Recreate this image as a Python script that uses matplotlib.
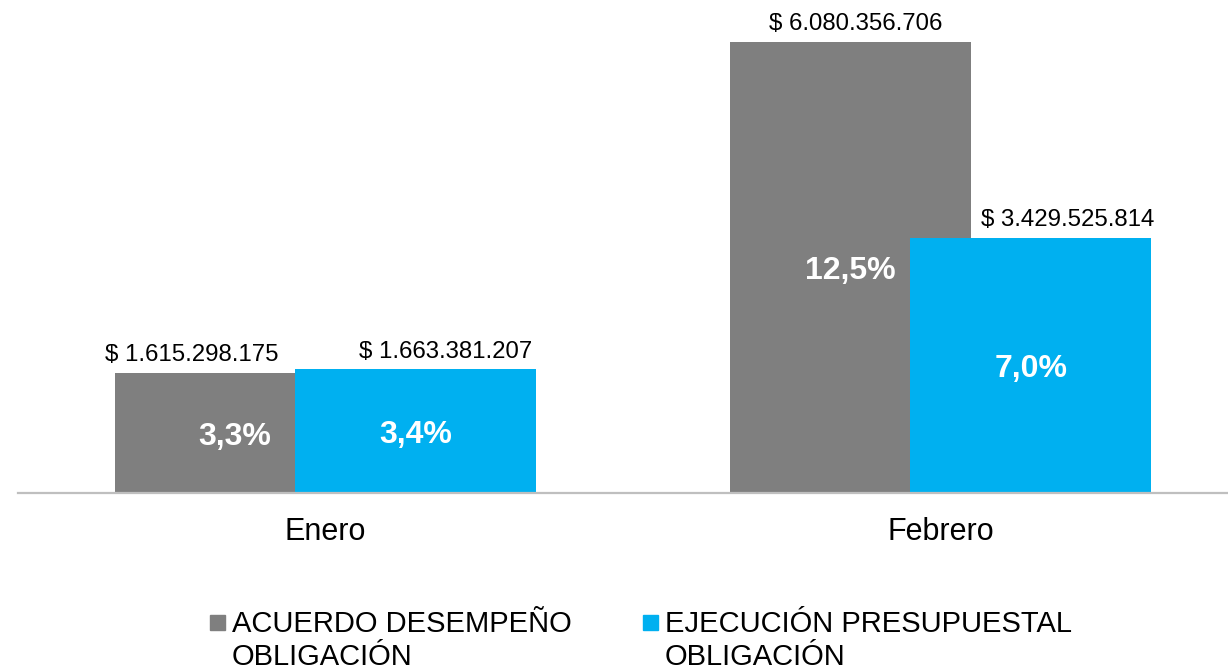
import matplotlib
matplotlib.use("Agg")
import matplotlib.pyplot as plt
from matplotlib.patches import Rectangle
import numpy as np

categories = ["Enero", "Febrero"]
series_names = ["ACUERDO DESEMPEÑO\nOBLIGACIÓN", "EJECUCIÓN PRESUPUESTAL\nOBLIGACIÓN"]
acuerdo = [1615298175, 6080356706]
ejecucion = [1663381207, 3429525814]
acuerdo_pct = ["3,3%", "12,5%"]
ejecucion_pct = ["3,4%", "7,0%"]

colors = ["#7F7F7F", "#00B0F0"]

plt.rcParams['font.family'] = ['Liberation Sans', 'DejaVu Sans']

W, H = 1228, 668
fig = plt.figure(figsize=(W / 100, H / 100), dpi=100)
ax = fig.add_axes([18 / W, (H - 493) / H, 1210 / W, 493 / H])

x = np.arange(len(categories))
bw = 0.392
off = 0.147

def fmt(v):
    return "$ " + f"{v:,}".replace(",", ".")

b1 = ax.bar(x - off, acuerdo, bw, color=colors[0], zorder=2)
b2 = ax.bar(x + off, ejecucion, bw, color=colors[1], zorder=3)

# value labels (x offsets in pixels to follow the original placement)
lab_dx_1 = [-43, 6]
lab_dx_2 = [30, 37]
for i in range(len(categories)):
    ax.annotate(fmt(acuerdo[i]), (x[i] - off, acuerdo[i]), xytext=(lab_dx_1[i] * 0.72, 5),
                textcoords="offset points", ha="center", va="bottom", fontsize=17.3, color="black", zorder=5)
    ax.annotate(fmt(ejecucion[i]), (x[i] + off, ejecucion[i]), xytext=(lab_dx_2[i] * 0.72, 5),
                textcoords="offset points", ha="center", va="bottom", fontsize=17.3, color="black", zorder=5)
    ax.text(x[i] - off, acuerdo[i] / 2, acuerdo_pct[i], ha="center", va="center_baseline",
            fontsize=23, fontweight="bold", color="white", zorder=6)
    ax.text(x[i] + off, ejecucion[i] / 2, ejecucion_pct[i], ha="center", va="center_baseline",
            fontsize=23, fontweight="bold", color="white", zorder=6)

ax.set_xlim(-0.5, -0.5 + 1210 / 615)
ax.set_ylim(0, 6.64e9)
ax.set_xticks(x)
ax.set_xticklabels(categories, fontsize=22)
ax.tick_params(axis="x", length=0, pad=17)
ax.set_yticks([])
for s in ["top", "right", "left"]:
    ax.spines[s].set_visible(False)
ax.spines["bottom"].set_color("#BFBFBF")
ax.spines["bottom"].set_linewidth(1.6)
ax.spines["bottom"].set_zorder(4)

# legend (manual layout)
leg_marker_x = [210, 643]
leg_text_x = [232, 665]
for k, name in enumerate(series_names):
    fig.patches.append(Rectangle((leg_marker_x[k] / W, 1 - 630 / H), 15 / W, 15 / H,
                                 transform=fig.transFigure, color=colors[k], zorder=5))
    for j, line in enumerate(name.split("\n")):
        fig.text(leg_text_x[k] / W, 1 - (632 + 33 * j) / H, line, ha="left", va="baseline",
                 fontsize=21, color="black")

fig.savefig("out.png", dpi=100)
